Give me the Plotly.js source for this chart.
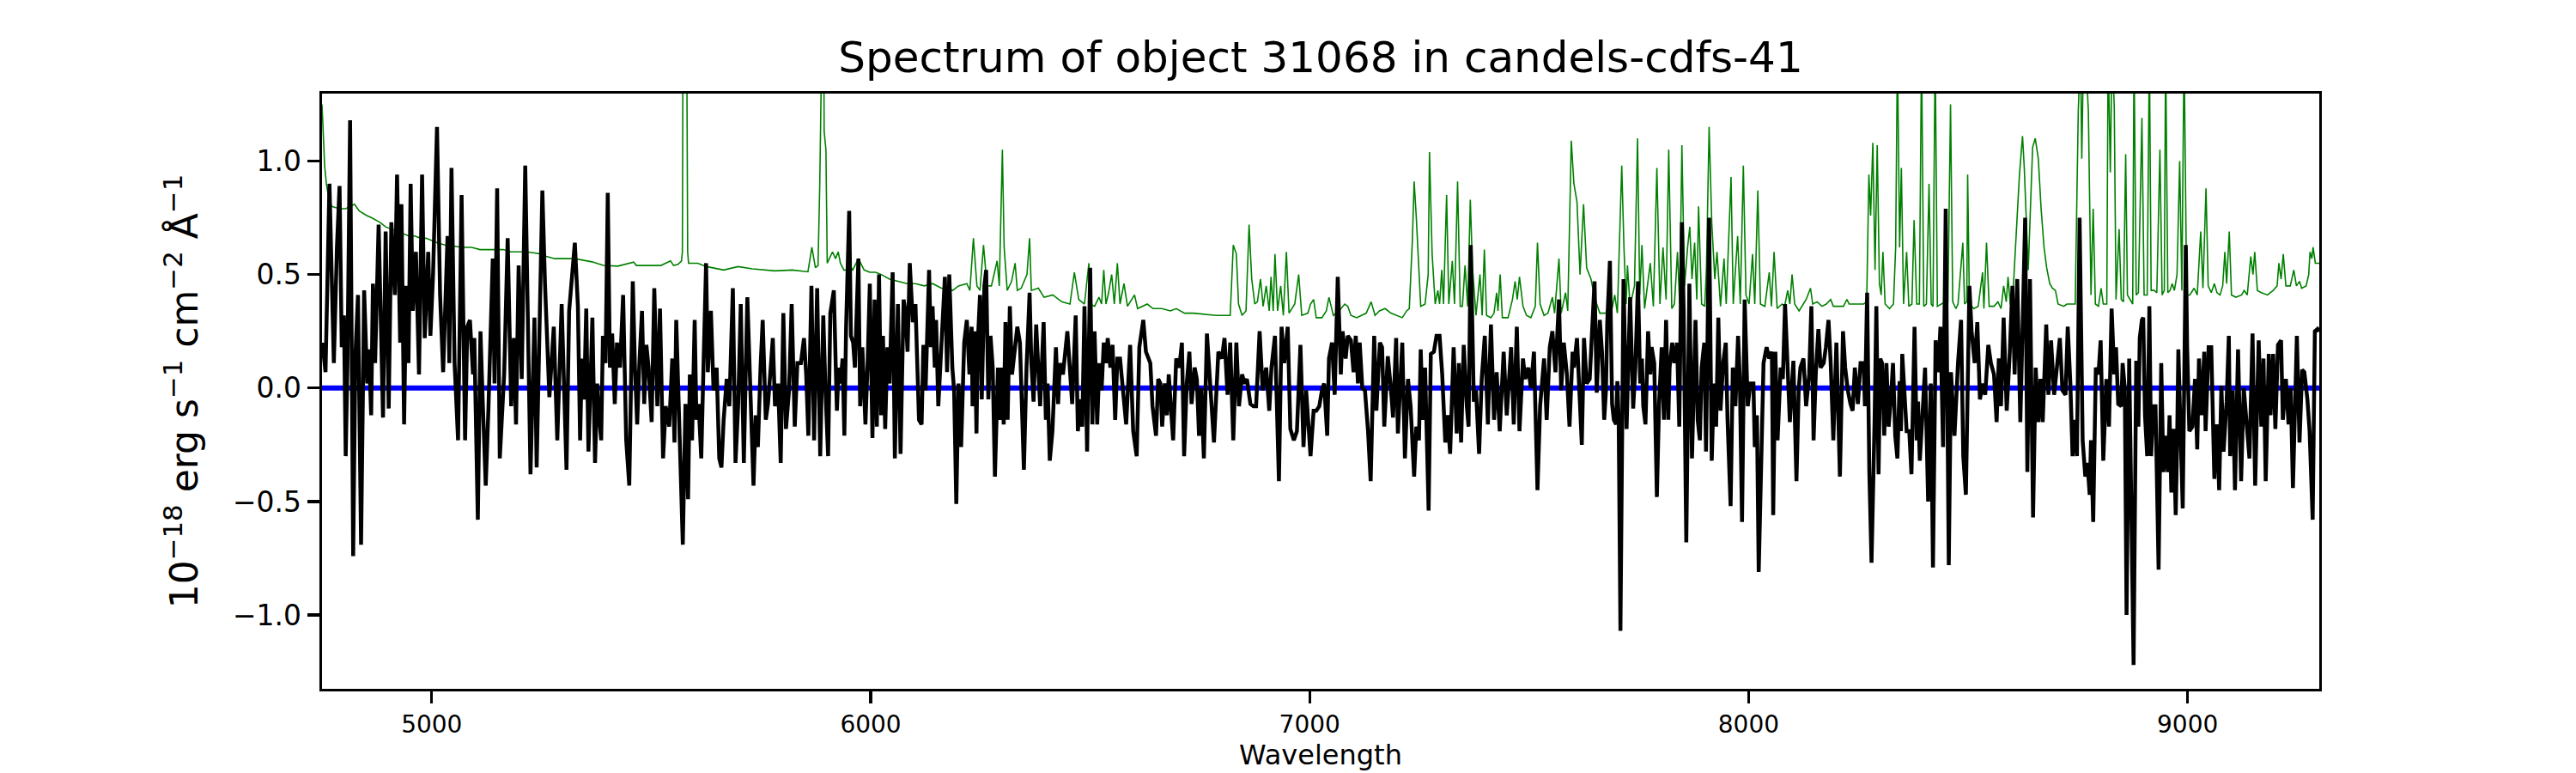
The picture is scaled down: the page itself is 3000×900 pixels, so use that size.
<!DOCTYPE html>
<html>
<head>
<meta charset="utf-8">
<script src="https://cdn.plot.ly/plotly-3.0.1.min.js"></script>
<style>
  body { margin: 0; background: white; }
  #graph { width: 3000px; height: 900px; }
</style>
</head>
<body>
<div id="graph"></div>
<script>
// object spectrum, [wavelength (A), flux in 1e-18 erg/s/cm2/A]
const specPoints = [
  [4751,0.20],[4758,0.07],[4767,0.90],[4777,0.11],[4784,0.62],[4790,0.89],[4795,0.18],[4800,0.32],
  [4804,-0.30],[4808,0.11],[4814,1.18],[4821,-0.74],[4826,0.14],[4832,0.41],[4839,-0.69],[4846,0.43],
  [4853,0.02],[4857,0.17],[4862,-0.12],[4866,0.46],[4871,0.11],[4879,0.72],[4889,-0.13],[4895,0.69],
  [4902,-0.09],[4908,0.73],[4916,0.41],[4921,0.94],[4928,0.20],[4931,0.81],[4937,-0.16],[4942,0.45],
  [4947,0.11],[4952,0.90],[4957,0.34],[4964,0.60],[4971,0.06],[4978,0.94],[4984,0.22],[4992,0.60],
  [4997,0.23],[5003,0.50],[5012,1.15],[5019,0.41],[5026,0.07],[5036,0.67],[5040,0.11],[5045,0.97],
  [5052,0.11],[5060,-0.23],[5068,0.85],[5076,-0.23],[5081,0.27],[5087,0.30],[5094,0.06],[5097,0.22],
  [5105,-0.58],[5111,0.25],[5116,-0.05],[5123,-0.43],[5129,-0.10],[5139,0.57],[5143,0.02],[5149,0.88],
  [5155,-0.31],[5165,0.06],[5173,0.66],[5181,-0.08],[5187,0.22],[5192,-0.16],[5198,0.54],[5205,0.04],
  [5213,0.98],[5225,-0.38],[5234,0.31],[5239,-0.35],[5252,0.87],[5258,0.46],[5268,-0.04],[5278,0.27],
  [5286,-0.23],[5296,0.37],[5307,-0.36],[5313,0.34],
  [5326,0.64],[5333,0.36],[5338,-0.23],[5342,0.13],[5347,-0.05],[5352,0.35],[5357,-0.28],[5362,0.13],
  [5366,0.31],[5372,-0.33],[5377,0.02],[5381,-0.12],[5386,-0.23],[5390,0.23],[5396,0.11],[5401,0.86],
  [5406,0.09],[5411,0.24],[5417,-0.07],[5422,0.20],[5429,0.09],[5436,0.41],[5443,-0.23],[5450,-0.43],
  [5458,0.47],[5463,0.09],[5468,-0.16],[5473,0.11],[5479,0.34],[5484,-0.07],[5489,0.19],[5494,0.09],
  [5501,-0.15],[5507,0.44],[5514,-0.08],[5520,0.35],[5527,-0.31],[5533,-0.08],[5541,-0.17],[5548,0.13],
  [5553,-0.24],[5557,0.30],[5564,-0.21],[5572,-0.69],[5578,-0.07],[5584,-0.49],[5588,0.06],[5593,-0.23],
  [5599,0.30],[5603,-0.14],[5608,-0.07],[5614,-0.31],[5619,0.09],[5625,0.55],[5629,0.07],[5636,0.34],
  [5642,-0.01],[5649,0.09],[5655,-0.31],[5660,-0.35],[5665,-0.14],[5672,0.04],[5678,-0.08],[5686,0.44],
  [5692,-0.33],[5698,-0.08],[5704,0.37],[5711,-0.33],[5719,0.40],[5725,0.00],[5733,-0.43],[5738,-0.12],
  [5743,-0.26],[5749,0.09],[5754,0.30],[5761,-0.14],[5766,-0.07],[5773,0.11],[5777,0.22],[5782,-0.08],
  [5789,0.02],[5795,-0.33],[5801,0.33],[5807,-0.18],[5814,-0.01],[5820,0.37],[5827,-0.17],[5833,0.11],
  [5841,0.11],[5848,0.22],[5853,0.06],[5858,-0.21],[5865,0.45],[5871,-0.23],[5878,0.44],[5885,-0.30],
  [5892,0.32],[5897,-0.01],[5903,-0.30],[5908,0.33],
  [5916,0.43],[5923,-0.10],[5927,0.09],[5931,0.02],[5936,0.13],[5940,-0.21],[5944,0.27],[5951,0.78],
  [5955,0.23],[5960,0.20],[5964,0.09],[5972,0.57],[5976,-0.08],[5981,0.18],[5988,-0.16],[5993,0.11],
  [5998,0.46],[6004,-0.22],[6009,0.39],[6014,-0.17],[6019,0.50],[6024,-0.12],[6028,0.23],[6033,-0.18],
  [6038,0.18],[6043,0.02],[6050,0.51],[6055,-0.31],[6062,0.37],[6068,-0.29],[6075,0.39],[6079,0.34],
  [6084,0.16],[6089,0.55],[6096,0.29],[6102,0.37],[6105,0.20],[6110,-0.14],[6116,-0.16],[6120,0.19],
  [6125,-0.01],[6133,0.52],[6137,0.18],[6141,0.36],[6146,0.09],[6149,0.30],[6154,-0.08],[6161,0.20],
  [6169,0.49],[6174,0.07],[6179,0.50],[6186,0.09],[6190,-0.01],[6195,-0.51],[6200,0.02],[6206,-0.26],
  [6213,0.20],[6219,0.30],[6225,0.06],[6230,0.27],[6232,-0.08],[6237,0.25],[6241,-0.20],[6244,0.20],
  [6249,0.41],[6253,-0.05],[6259,0.45],[6263,0.52],[6268,-0.05],[6273,0.23],[6278,0.09],[6283,-0.39],
  [6290,0.09],[6294,-0.14],[6299,0.09],[6303,-0.16],[6307,0.29],[6312,-0.14],[6317,0.36],[6322,0.06],
  [6334,0.27],[6340,0.20],[6349,-0.36],[6355,0.09],[6362,0.42],[6366,0.11],[6371,-0.06],[6377,0.28],
  [6386,-0.08],[6394,0.29],[6399,-0.14],[6403,0.02],[6408,-0.32],[6414,-0.19],[6422,0.18],[6427,-0.07],
  [6431,0.11],[6438,0.06],[6448,0.25],[6459,-0.07],[6467,0.32],[6472,-0.19],[6477,-0.05],[6482,-0.17],
  [6487,0.36],[6493,-0.28],
  [6500,0.53],[6505,-0.16],[6510,0.25],[6516,-0.16],[6521,0.11],[6526,-0.01],[6531,0.20],[6536,0.11],
  [6540,0.22],[6546,0.09],[6551,0.19],[6557,-0.14],[6562,0.13],[6568,0.13],[6575,-0.01],[6582,-0.16],
  [6591,0.19],[6598,-0.19],[6606,-0.30],[6612,0.18],[6621,0.30],[6627,0.16],[6637,0.11],[6642,-0.08],
  [6650,-0.21],[6655,0.04],[6660,0.02],[6664,-0.17],[6670,0.02],[6675,-0.12],[6679,0.06],[6689,-0.23],
  [6696,0.13],[6703,0.09],[6709,0.20],[6714,-0.30],[6720,0.02],[6726,0.16],[6731,-0.07],[6738,0.09],
  [6743,0.04],[6748,-0.21],[6753,0.00],[6759,-0.31],[6766,0.24],[6774,0.02],[6782,-0.24],[6792,0.16],
  [6800,0.13],[6806,0.22],[6813,-0.03],[6819,0.20],[6826,-0.23],[6833,0.20],[6839,-0.08],[6846,0.06],
  [6852,0.02],[6857,0.04],[6865,-0.07],[6872,-0.08],[6878,-0.08],[6886,0.25],[6893,-0.01],[6901,0.09],
  [6908,-0.10],[6913,0.09],[6921,0.23],[6930,-0.41],[6936,0.27],[6942,0.11],[6950,0.27],[6956,-0.18],
  [6964,-0.23],[6971,-0.19],[6979,0.19],[6986,-0.26],[6992,-0.01],[7002,-0.30],[7009,-0.10],[7015,-0.10],
  [7022,-0.08],[7028,-0.01],[7033,0.02],[7040,-0.21],[7044,0.13],[7051,0.20],[7057,-0.03],[7064,0.49],
  [7071,0.06],[7075,0.25],[7082,0.13],
  [7087,0.23],[7094,0.21],[7100,0.07],[7105,0.23],[7110,0.02],[7114,0.20],[7120,0.00],[7126,-0.01],
  [7133,-0.19],[7139,-0.41],[7147,0.23],[7152,-0.10],[7160,0.20],[7165,0.18],[7170,-0.17],[7178,0.14],
  [7185,0.00],[7190,-0.13],[7197,0.22],[7201,-0.20],[7211,0.20],[7217,-0.31],[7224,0.04],[7230,-0.08],
  [7238,-0.39],[7243,-0.17],[7249,-0.23],[7253,0.17],[7258,-0.14],[7263,0.09],[7271,-0.54],[7276,0.15],
  [7283,0.16],[7289,0.23],[7296,0.23],[7302,0.06],[7309,-0.24],[7314,-0.12],[7320,-0.29],[7328,0.18],
  [7335,-0.20],[7340,0.11],[7345,-0.24],[7351,0.19],[7358,-0.08],[7362,-0.17],[7367,0.63],[7374,-0.06],
  [7379,-0.01],[7386,-0.29],[7392,0.04],[7399,0.23],[7406,-0.16],[7413,0.28],[7420,-0.14],[7426,0.07],
  [7433,-0.19],[7442,0.16],[7449,-0.12],[7459,0.18],[7465,-0.16],[7472,0.27],[7478,-0.19],[7486,0.13],
  [7491,0.04],[7498,0.09],[7504,0.00],[7511,0.16],[7519,-0.45],[7525,-0.08],[7534,0.13],[7540,-0.14],
  [7547,0.18],[7553,0.25],[7560,0.07],[7568,0.39],[7573,-0.01],[7579,0.20],[7586,0.06],[7592,-0.17],
  [7599,0.16],[7602,0.09],[7609,0.22],[7615,-0.03],[7620,-0.25],[7625,0.22],[7631,0.02],[7638,0.04],
  [7644,0.25],[7649,0.47],[7654,-0.02],[7661,0.30],[7666,0.16],[7671,-0.14],
  [7675,-0.01],[7678,0.29],[7684,0.56],[7689,-0.07],[7693,-0.14],[7698,-0.16],[7701,0.03],[7704,-0.14],
  [7708,-1.07],[7711,-0.44],[7715,0.48],[7722,-0.18],[7730,0.40],[7737,-0.09],[7742,0.09],[7748,0.47],
  [7753,0.02],[7757,0.13],[7760,-0.08],[7765,-0.16],[7771,0.25],[7776,0.06],[7779,0.18],[7785,0.11],
  [7791,-0.48],[7796,-0.07],[7802,0.18],[7807,-0.14],[7812,0.30],[7817,-0.14],[7820,0.09],[7826,0.20],
  [7831,0.11],[7837,0.20],[7842,-0.17],[7848,0.73],[7852,0.34],[7858,-0.68],[7865,0.46],[7871,-0.31],
  [7874,-0.03],[7879,0.30],[7884,-0.14],[7889,-0.23],[7893,0.09],[7899,0.20],[7903,-0.28],[7910,0.75],
  [7916,-0.32],[7921,0.02],[7926,-0.17],[7931,0.31],[7936,-0.10],[7942,0.11],[7948,0.20],[7952,-0.14],
  [7959,-0.52],[7964,0.09],[7970,-0.08],[7976,0.23],[7980,0.04],[7985,-0.59],[7991,0.39],[7998,-0.08],
  [8004,0.02],[8011,0.02],[8014,-0.26],[8019,-0.12],[8023,-0.81],[8027,-0.44],[8034,0.11],[8041,0.18],
  [8047,0.13],[8053,0.16],[8056,-0.56],[8061,0.16],[8066,-0.23],[8073,0.09],[8078,0.04],[8083,0.37],
  [8088,0.09],[8094,-0.15],[8102,0.12],[8109,-0.41],[8114,-0.01],[8118,0.09],[8125,0.13],[8131,-0.08],
  [8138,0.06],[8143,0.36],[8148,-0.23],[8153,0.06],[8159,0.26],[8164,0.09],[8171,0.11],[8176,0.18],
  [8182,0.30],[8187,0.11],[8193,-0.23],[8200,0.20],[8208,-0.39],[8215,0.25],[8220,0.09],[8226,-0.01],
  [8232,-0.07],[8237,-0.10],[8242,0.09],[8249,-0.07],[8255,0.11],
  [8262,0.11],[8265,-0.08],[8270,0.42],[8275,-0.37],[8280,-0.77],[8287,-0.14],[8291,0.36],[8296,-0.38],
  [8300,0.13],[8304,0.11],[8309,-0.21],[8314,0.11],[8319,-0.17],[8324,-0.05],[8329,0.11],[8334,-0.21],
  [8339,-0.31],[8344,0.03],[8347,-0.19],[8350,0.15],[8357,-0.12],[8360,-0.19],[8366,-0.19],[8371,-0.38],
  [8378,0.27],[8383,-0.23],[8386,-0.06],[8390,-0.32],[8396,-0.12],[8402,0.09],[8409,-0.50],[8415,0.02],
  [8420,-0.79],[8426,0.21],[8432,0.07],[8437,0.27],[8443,-0.26],[8449,0.79],[8456,-0.78],[8461,0.07],
  [8469,-0.21],[8477,0.11],[8484,0.30],[8489,-0.30],[8495,-0.47],[8503,0.45],[8508,0.25],[8515,0.11],
  [8521,0.29],[8527,-0.05],[8533,0.02],[8539,-0.03],[8546,0.19],[8552,0.11],[8559,0.06],[8565,-0.15],
  [8570,0.13],[8575,-0.08],[8581,0.31],[8588,-0.10],[8595,0.16],[8601,0.45],[8606,0.06],[8612,0.48],
  [8619,-0.15],[8624,0.27],[8630,0.75],[8635,-0.37],[8641,0.48],[8648,-0.57],[8654,0.09],[8660,-0.15],
  [8665,0.04],[8670,-0.15],[8678,0.28],[8683,-0.03],[8689,0.21],[8696,-0.03],[8702,0.09],[8709,0.22],
  [8715,-0.01],[8722,-0.03],[8727,0.27],[8733,0.02],[8738,-0.30],[8743,-0.14],[8748,-0.30],[8754,0.75],
  [8761,-0.23],[8767,-0.39],[8772,-0.33],[8777,-0.47],[8780,-0.23],[8785,-0.59],[8791,0.09],[8797,0.06],
  [8802,0.21],[8808,-0.32],[8815,0.04],[8821,-0.17],[8827,0.35],[8833,0.06],[8837,0.18],[8842,-0.07],
  [8849,-0.08],[8852,0.11],[8857,0.00],[8861,-1.00],[8867,0.13],[8872,-0.44],[8877,-1.22],[8883,0.12],
  [8888,-0.17],[8891,0.22],[8896,0.30],[8899,0.31],[8903,-0.12],[8908,-0.30],[8913,0.36],[8917,-0.30],
  [8922,-0.08],[8927,-0.08],[8934,-0.80],[8940,0.11],[8945,-0.37],[8950,-0.21],[8955,-0.37],[8959,-0.12],
  [8963,-0.46],[8968,-0.18],[8973,-0.56],[8976,-0.26],[8979,0.17],[8985,-0.26],[8989,-0.53],[8996,0.63],
  [8999,0.18],[9004,-0.19],[9011,-0.17],[9017,0.04],[9022,-0.27],[9026,0.13],[9032,-0.12],[9038,0.16],
  [9041,-0.19],[9048,0.18],[9054,0.18],[9061,-0.40],[9067,-0.16],[9072,-0.45],[9077,0.01],[9082,-0.28],
  [9089,-0.06],[9094,0.23],[9097,-0.30],[9103,-0.01],[9108,-0.45],[9115,0.17],[9122,-0.41],[9128,0.00],
  [9135,-0.16],[9141,-0.31],[9148,0.24],[9154,-0.43],[9162,0.21],[9168,-0.17],[9173,0.13],[9178,-0.41],
  [9185,0.15],[9189,-0.12],[9195,0.15],[9200,-0.18],[9206,0.19],[9213,0.21],[9217,-0.14],[9224,0.04],
  [9230,-0.16],[9235,0.00],[9240,-0.44],[9249,0.23],[9255,-0.24],[9261,0.08],[9266,0.07],[9273,-0.05],
  [9278,-0.19],[9285,-0.58],[9290,0.25],[9296,0.26],[9300,0.25]
];

// noise / sky spectrum (green)
const noisePoints = [
  [4750,1.25],[4753,1.12],[4756,0.98],[4760,0.90],[4765,0.84],[4772,0.80],[4790,0.79],[4804,0.79],
  [4815,0.80],[4824,0.81],[4835,0.78],[4843,0.77],[4852,0.76],[4863,0.75],[4872,0.74],[4882,0.73],
  [4895,0.71],[4909,0.70],[4920,0.69],[4935,0.68],[4948,0.67],[4961,0.67],[4975,0.66],[4987,0.66],
  [5000,0.65],[5013,0.64],[5030,0.63],[5052,0.625],[5070,0.62],[5091,0.62],[5110,0.61],[5130,0.61],
  [5150,0.61],[5163,0.61],[5180,0.60],[5195,0.60],[5215,0.60],[5234,0.595],[5250,0.59],[5261,0.58],
  [5280,0.57],[5293,0.57],[5310,0.57],
  [5326,0.57],[5365,0.556],[5391,0.54],[5424,0.537],[5460,0.555],[5466,0.54],[5489,0.54],[5522,0.54],
  [5544,0.56],[5551,0.54],[5561,0.545],[5569,0.56],[5571,0.60],[5573,2.0],[5580,2.0],[5583,0.60],
  [5585,0.55],[5606,0.55],[5626,0.535],[5665,0.52],[5698,0.535],[5730,0.525],[5782,0.516],[5821,0.52],
  [5857,0.512],[5866,0.62],[5874,0.53],[5880,0.54],[5884,0.90],[5887,2.0],[5892,2.0],[5894,1.13],
  [5898,1.05],[5901,0.55],
  [5913,0.60],[5920,0.57],[5926,0.60],[5931,0.55],[5939,0.52],[5946,0.52],[5952,0.54],[5959,0.52],
  [5972,0.57],[5985,0.52],[5998,0.51],[6011,0.51],[6024,0.50],[6043,0.48],[6063,0.47],[6083,0.46],
  [6102,0.46],[6122,0.45],[6141,0.46],[6161,0.44],[6187,0.43],[6200,0.45],[6219,0.46],[6226,0.43],
  [6234,0.66],[6242,0.45],[6249,0.43],[6257,0.63],[6265,0.45],[6275,0.45],[6288,0.56],[6293,0.45],
  [6300,1.05],[6304,0.62],[6311,0.43],[6321,0.47],[6329,0.55],[6334,0.43],[6343,0.44],[6356,0.50],
  [6362,0.66],[6366,0.43],[6382,0.44],[6395,0.40],[6415,0.41],[6435,0.38],[6454,0.37],[6464,0.51],
  [6474,0.39],[6487,0.37],[6497,0.55],
  [6500,0.37],[6510,0.36],[6520,0.40],[6526,0.37],[6531,0.52],[6536,0.37],[6542,0.42],[6549,0.50],
  [6555,0.37],[6562,0.55],[6568,0.37],[6577,0.46],[6585,0.36],[6601,0.41],[6608,0.35],[6630,0.37],
  [6643,0.35],[6663,0.35],[6683,0.34],[6696,0.35],[6715,0.33],[6735,0.33],[6761,0.325],[6787,0.32],
  [6806,0.32],[6819,0.32],[6826,0.63],[6833,0.59],[6838,0.37],[6846,0.32],[6855,0.34],[6862,0.72],
  [6868,0.48],[6875,0.37],[6881,0.38],[6888,0.48],[6894,0.36],[6901,0.45],[6908,0.34],[6912,0.49],
  [6917,0.34],[6921,0.59],[6927,0.34],[6934,0.45],[6940,0.32],[6947,0.60],[6953,0.33],[6966,0.37],
  [6975,0.50],[6982,0.32],[6996,0.33],[7002,0.37],[7009,0.39],[7015,0.31],[7028,0.31],[7038,0.34],
  [7044,0.40],[7054,0.32],[7067,0.34],[7080,0.37],
  [7087,0.36],[7094,0.32],[7107,0.31],[7120,0.32],[7129,0.33],[7140,0.38],[7149,0.32],[7159,0.34],
  [7172,0.35],[7185,0.33],[7198,0.32],[7211,0.31],[7221,0.34],[7227,0.35],[7234,0.65],[7238,0.91],
  [7243,0.75],[7249,0.48],[7253,0.36],[7263,0.37],[7270,0.50],[7273,1.04],[7279,0.59],[7286,0.37],
  [7292,0.43],[7296,0.37],[7301,0.52],[7305,0.37],[7312,0.85],[7317,0.37],[7325,0.56],[7330,0.37],
  [7337,0.91],[7343,0.36],[7348,0.36],[7354,0.54],[7360,0.36],[7366,0.83],[7371,0.53],[7379,0.32],
  [7388,0.50],[7393,0.32],[7398,0.61],[7403,0.32],[7413,0.31],[7420,0.33],[7426,0.42],[7429,0.34],
  [7434,0.50],[7439,0.31],[7452,0.31],[7462,0.39],[7468,0.47],[7473,0.39],[7478,0.49],[7486,0.36],
  [7494,0.32],[7504,0.31],[7514,0.36],[7519,0.64],[7525,0.37],[7534,0.32],[7543,0.33],[7553,0.40],
  [7558,0.33],[7568,0.57],[7573,0.33],[7583,0.42],[7588,0.34],[7596,1.09],[7602,0.90],[7609,0.82],
  [7616,0.50],[7624,0.81],[7631,0.53],[7641,0.48],[7648,0.41],[7654,0.37],[7661,0.33],
  [7675,0.33],[7682,0.37],[7688,0.34],[7695,0.41],[7701,0.33],[7706,0.62],[7711,0.98],[7716,0.62],
  [7721,0.37],[7724,0.54],[7730,0.36],[7740,0.45],[7747,1.10],[7752,0.41],[7757,0.63],[7763,0.35],
  [7771,0.48],[7776,0.55],[7783,0.36],[7791,0.97],[7798,0.37],[7805,0.62],[7812,0.39],[7818,1.05],
  [7825,0.35],[7831,0.37],[7838,0.60],[7843,0.37],[7848,1.07],[7854,0.45],[7861,0.62],[7866,0.71],
  [7871,0.48],[7877,0.64],[7882,0.39],[7886,0.80],[7893,0.37],[7900,0.36],[7904,0.53],[7910,1.15],
  [7916,0.73],[7923,0.48],[7928,0.60],[7936,0.36],[7944,0.57],[7949,0.37],[7960,0.93],[7965,0.37],
  [7975,0.67],[7981,0.37],[7988,0.98],[7994,0.41],[8001,0.37],[8009,0.59],[8014,0.37],[8021,0.87],
  [8027,0.37],[8037,0.36],[8047,0.51],[8052,0.36],[8058,0.60],[8065,0.35],[8076,0.37],[8082,0.36],
  [8089,0.43],[8094,0.37],[8099,0.50],[8105,0.37],[8115,0.34],[8125,0.37],[8131,0.39],[8141,0.44],
  [8146,0.37],[8156,0.38],[8167,0.36],[8177,0.37],[8187,0.39],[8193,0.36],[8203,0.36],[8216,0.36],
  [8224,0.39],[8229,0.37],[8242,0.37],
  [8262,0.37],[8269,0.38],[8274,0.94],[8278,0.76],[8283,1.08],[8288,0.52],[8293,1.07],[8298,0.46],
  [8302,0.41],[8306,0.60],[8311,0.37],[8321,0.35],[8330,0.37],[8335,0.62],[8339,1.50],[8344,0.62],
  [8348,0.97],[8353,0.37],[8360,0.60],[8365,0.36],[8372,0.37],[8377,0.74],[8383,0.37],[8389,0.37],
  [8394,1.50],[8399,0.36],[8405,0.37],[8411,0.90],[8416,0.37],[8420,0.36],[8425,1.50],[8430,0.36],
  [8438,0.37],[8448,0.38],[8454,0.38],[8460,1.25],[8465,0.38],[8472,0.35],[8477,0.37],[8488,0.64],
  [8492,0.37],[8497,0.38],[8499,0.94],[8503,0.37],[8513,0.35],[8523,0.36],[8533,0.51],[8536,0.35],
  [8542,0.64],[8548,0.36],[8559,0.36],[8568,0.38],[8575,0.35],[8581,0.45],[8587,0.38],[8591,0.49],
  [8596,0.37],[8601,0.37],[8608,0.62],[8617,0.94],[8624,1.11],[8628,0.97],[8637,0.52],[8647,1.06],
  [8653,1.10],[8660,1.01],[8666,0.80],[8673,0.62],[8679,0.53],[8686,0.46],[8692,0.44],[8699,0.43],
  [8705,0.37],[8718,0.36],[8725,0.37],[8731,0.37],[8744,0.37],[8751,1.22],[8756,1.50],[8759,1.01],
  [8763,1.50],[8767,1.50],[8774,1.22],[8780,0.41],[8785,0.79],[8790,0.37],[8797,0.36],[8803,0.44],
  [8808,0.37],[8816,0.37],[8819,1.50],[8824,0.95],[8828,1.50],[8833,1.24],[8837,0.39],[8844,0.70],
  [8849,0.39],[8854,0.38],[8859,1.03],[8863,0.41],[8869,0.39],[8875,0.37],[8878,1.50],[8883,0.41],
  [8888,0.42],[8896,1.19],[8901,0.41],[8908,0.41],[8913,1.50],[8917,0.43],[8924,0.43],[8930,0.42],
  [8937,1.05],[8942,0.41],[8947,0.43],[8950,1.50],[8955,0.42],[8960,0.43],[8965,0.46],[8970,0.43],
  [8976,0.50],[8982,1.00],[8987,0.43],[8992,1.50],[8998,0.41],[9005,0.41],[9015,0.44],[9022,0.41],
  [9030,0.69],[9035,0.44],[9042,0.88],[9047,0.45],[9054,0.42],[9061,0.46],[9067,0.42],[9074,0.41],
  [9080,0.45],[9085,0.60],[9089,0.46],[9095,0.69],[9100,0.41],[9110,0.40],[9123,0.41],[9129,0.43],
  [9136,0.41],[9144,0.58],[9149,0.50],[9153,0.60],[9159,0.43],[9168,0.42],[9182,0.41],[9195,0.43],
  [9204,0.45],[9208,0.55],[9213,0.48],[9218,0.59],[9224,0.45],[9234,0.45],[9242,0.52],[9248,0.45],
  [9255,0.47],[9260,0.44],[9270,0.45],[9276,0.50],[9279,0.60],[9283,0.57],[9286,0.62],[9291,0.55],
  [9300,0.55]
];

const zeroWave = [4750, 9300];
const zeroFlux = [0, 0];

const xTicks = [5000, 6000, 7000, 8000, 9000];
const yTicks = [-1.0, -0.5, 0.0, 0.5, 1.0];

const traces = [
  {
    x: noisePoints.map(p => p[0]), y: noisePoints.map(p => p[1]),
    mode: 'lines', line: { color: 'green', width: 1.6 }, hoverinfo: 'skip'
  },
  {
    x: zeroWave, y: zeroFlux,
    mode: 'lines', line: { color: 'blue', width: 6 }, hoverinfo: 'skip'
  },
  {
    x: specPoints.map(p => p[0]), y: specPoints.map(p => p[1]),
    mode: 'lines', line: { color: 'black', width: 4.5 }, hoverinfo: 'skip'
  }
];

const axisCommon = {
  ticks: 'outside', ticklen: 14, tickwidth: 3.3, tickcolor: 'black',
  showline: true, linewidth: 3.3, linecolor: 'black', mirror: true,
  showgrid: false, zeroline: false
};

const layout = {
  width: 3000, height: 900,
  margin: { l: 375, r: 299, t: 109, b: 98 },
  paper_bgcolor: 'white', plot_bgcolor: 'white',
  showlegend: false,
  font: { family: 'DejaVu Sans', color: 'black' },
  title: {
    text: 'Spectrum of object 31068 in candels-cdfs-41',
    font: { size: 50, color: 'black' },
    x: 0.5, xref: 'paper', xanchor: 'center',
    y: 1 - 66 / 900, yref: 'container', yanchor: 'middle'
  },
  xaxis: Object.assign({}, axisCommon, {
    range: [4750, 9300], tickvals: xTicks, tickformat: 'd',
    tickfont: { size: 28 },
    title: { text: 'Wavelength', font: { size: 32 }, standoff: 6 }
  }),
  yaxis: Object.assign({}, axisCommon, {
    range: [-1.325, 1.297], tickvals: yTicks, tickformat: '.1f',
    tickfont: { size: 33 },
    title: {
      text: '10<sup>−18</sup> erg s<sup>−1</sup> cm<sup>−2</sup> Å<sup>−1</sup>',
      font: { size: 44 }, standoff: 27
    }
  })
};

Plotly.newPlot('graph', traces, layout, { staticPlot: true });
</script>
</body>
</html>
